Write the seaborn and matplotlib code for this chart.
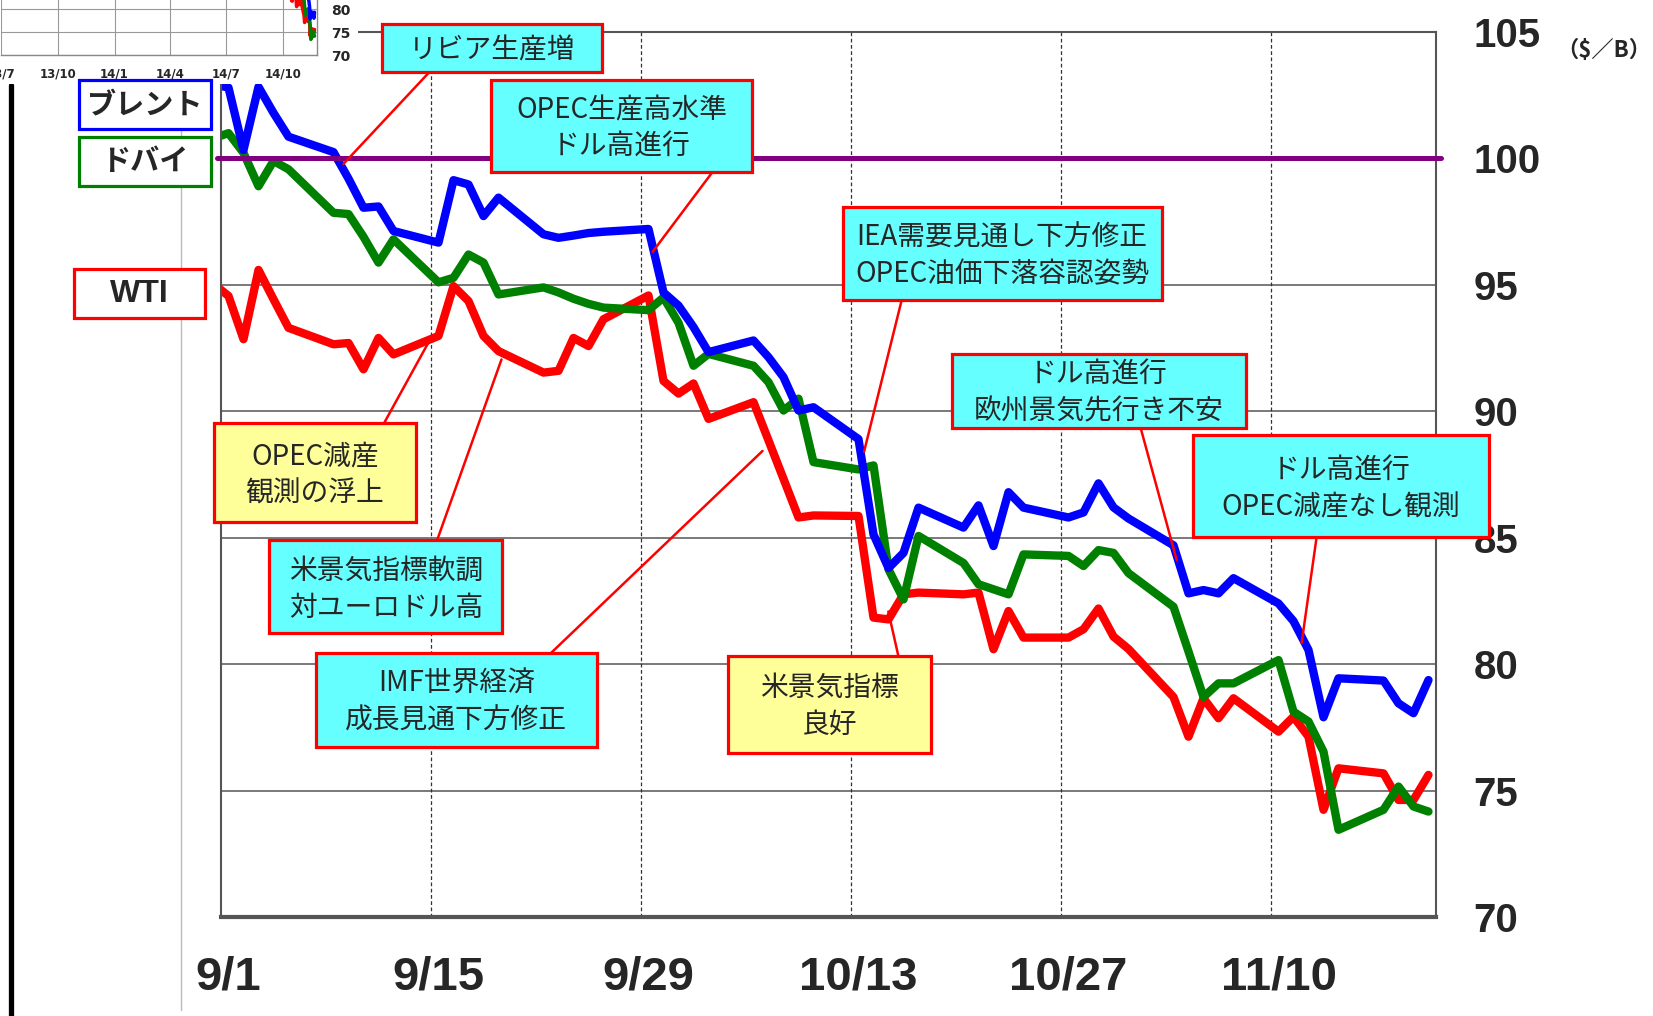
"""原油価格(WTI・ブレント・ドバイ)の推移 2014年9月〜11月と主な変動要因."""

import matplotlib
matplotlib.use("Agg")
import matplotlib.dates as mdates
import matplotlib.pyplot as plt
import pandas as pd
import seaborn as sns
from matplotlib.lines import Line2D
from matplotlib.patches import Rectangle

# ---- データ ----
DATES = [
    "2014-08-29", "2014-09-01", "2014-09-02", "2014-09-03", "2014-09-04", "2014-09-05",
    "2014-09-08", "2014-09-09", "2014-09-10", "2014-09-11", "2014-09-12",
    "2014-09-15", "2014-09-16", "2014-09-17", "2014-09-18", "2014-09-19",
    "2014-09-22", "2014-09-23", "2014-09-24", "2014-09-25", "2014-09-26",
    "2014-09-29", "2014-09-30", "2014-10-01", "2014-10-02", "2014-10-03",
    "2014-10-06", "2014-10-07", "2014-10-08", "2014-10-09", "2014-10-10",
    "2014-10-13", "2014-10-14", "2014-10-15", "2014-10-16", "2014-10-17",
    "2014-10-20", "2014-10-21", "2014-10-22", "2014-10-23", "2014-10-24",
    "2014-10-27", "2014-10-28", "2014-10-29", "2014-10-30", "2014-10-31",
    "2014-11-03", "2014-11-04", "2014-11-05", "2014-11-06", "2014-11-07",
    "2014-11-10", "2014-11-11", "2014-11-12", "2014-11-13", "2014-11-14",
    "2014-11-17", "2014-11-18", "2014-11-19", "2014-11-20",
]
BRENT = [
    103.2, 102.8, 100.33, 102.83, 101.8, 100.86,
    100.25, 99.2, 98.05, 98.1, 97.13,
    96.67, 99.14, 98.97, 97.72, 98.45,
    97.0, 96.86, 96.95, 97.05, 97.1,
    97.21, 94.7, 94.18, 93.33, 92.34,
    92.8, 92.14, 91.35, 90.03, 90.16,
    88.9, 85.13, 83.8, 84.4, 86.19,
    85.4, 86.28, 84.67, 86.8, 86.19,
    85.8, 86.0, 87.15, 86.2, 85.76,
    84.7, 82.8, 82.93, 82.8, 83.4,
    82.4, 81.7, 80.56, 77.9, 79.44,
    79.35, 78.45, 78.06, 79.37,
]
DUBAI = [
    100.4, 101.0, 100.22, 98.9, 99.9, 99.57,
    97.85, 97.8, 96.9, 95.88, 96.8,
    95.1, 95.28, 96.2, 95.88, 94.62,
    94.9, 94.7, 94.45, 94.25, 94.1,
    94.0, 94.5, 93.5, 91.8, 92.27,
    91.8, 91.15, 90.03, 90.5, 87.99,
    87.7, 87.86, 83.75, 82.56, 85.07,
    84.0, 83.16, 82.96, 82.76, 84.34,
    84.28, 83.88, 84.51, 84.4, 83.6,
    82.27, 80.5, 78.7, 79.24, 79.24,
    80.16, 78.12, 77.73, 76.54, 73.45,
    74.24, 75.16, 74.37, 74.17,
]
WTI = [
    96.0, 94.56, 92.85, 95.59, 94.43, 93.3,
    92.65, 92.7, 91.66, 92.9, 92.25,
    92.98, 94.95, 94.36, 92.98, 92.38,
    91.53, 91.6, 92.9, 92.58, 93.64,
    94.58, 91.2, 90.7, 91.1, 89.7,
    90.36, 88.85, 87.33, 85.8, 85.88,
    85.86, 81.84, 81.77, 82.76, 82.83,
    82.76, 82.83, 80.59, 82.1, 81.05,
    81.05, 81.38, 82.2, 81.09, 80.6,
    78.7, 77.13, 78.65, 77.86, 78.65,
    77.33, 77.92, 77.13, 74.24, 75.88,
    75.68, 74.63, 74.63, 75.62,
]

SERIES = ["WTI", "ドバイ", "ブレント"]  # 描画順 (ブレントが最前面)
COLORS = {"WTI": "#ff0000", "ドバイ": "#008000", "ブレント": "#0000ff"}
LEGEND_ORDER = ["ブレント", "ドバイ", "WTI"]

X_TICK_DATES = ["2014-09-01", "2014-09-15", "2014-09-29",
                "2014-10-13", "2014-10-27", "2014-11-10"]
X_TICK_LABELS = ["9/1", "9/15", "9/29", "10/13", "10/27", "11/10"]
Y_TICKS = [70, 75, 80, 85, 90, 95, 100, 105]
LINE_100 = 100

INSET_TICK_DATES = ["2013-07-01", "2013-10-01", "2014-01-01",
                    "2014-04-01", "2014-07-01", "2014-10-01"]
INSET_TICK_LABELS = ["13/7", "13/10", "14/1", "14/4", "14/7", "14/10"]
INSET_Y_TICKS = [70, 75, 80]

CYAN = "#66ffff"
YELLOW = "#ffff99"
# 吹き出し: テキスト, 色, (x0, x1, y0, y1), 引出線 始点, 終点  (x は 9/1 からの日数)
CALLOUTS = [
    ("リビア生産増", CYAN, (10.7, 25.4, 103.42, 105.33), (13.9, 103.42), (8.16, 99.78)),
    ("OPEC生産高水準\nドル高進行", CYAN, (18.02, 35.37, 99.45, 103.1), (32.75, 99.45), (28.78, 96.31)),
    ("IEA需要見通し下方修正\nOPEC油価下落容認姿勢", CYAN, (41.45, 62.7, 94.4, 98.08),
     (45.38, 94.4), (42.87, 88.4)),
    ("ドル高進行\n欧州景気先行き不安", CYAN, (48.7, 68.3, 89.34, 92.27), (61.31, 89.34), (63.71, 84.12)),
    ("ドル高進行\nOPEC減産なし観測", CYAN, (64.78, 84.5, 85.02, 89.05), (73.04, 85.02), (72.04, 80.83)),
    ("OPEC減産\n観測の浮上", YELLOW, (-0.47, 13.0, 85.64, 89.53), (10.87, 89.53), (13.95, 92.85)),
    ("米景気指標軟調\n対ユーロドル高", CYAN, (3.22, 18.75, 81.25, 84.89), (14.4, 84.89), (18.7, 92.05)),
    ("IMF世界経済\n成長見通下方修正", CYAN, (6.33, 25.05, 76.74, 80.43), (21.98, 80.43), (36.1, 88.43)),
    ("米景気指標\n良好", YELLOW, (33.83, 47.33, 76.5, 80.34), (45.15, 80.34), (44.49, 82.08)),
]

W, H = 1653, 1016
JP = ["Noto Sans CJK JP", "DejaVu Sans"]
NUM = ["Liberation Sans", "DejaVu Sans"]


def fx(x):
    return x / W


def fy(y):
    return 1 - y / H


sns.set_style("white")
plt.rcParams["font.family"] = JP

t0 = pd.Timestamp("2014-09-01")
dates = pd.to_datetime(DATES)
df = pd.DataFrame({"date": dates, "ブレント": BRENT, "ドバイ": DUBAI, "WTI": WTI})
df["day"] = (df["date"] - t0).dt.days + 0.5
long = df.melt(id_vars=["date", "day"], value_vars=SERIES,
               var_name="series", value_name="price")
long["dnum"] = mdates.date2num(long["date"]) + 0.5

fig = plt.figure(figsize=(W / 100, H / 100), dpi=100)
fig.patch.set_facecolor("white")

# ---- メインチャート ----
ax = fig.add_axes([fx(221), fy(917), fx(1436 - 221), (917 - 32) / H])
ax.set_xlim(0, 81)
ax.set_ylim(70, 105)
ax.set_yticks(Y_TICKS)
ax.yaxis.grid(True, color="#555555", lw=1.1)
for d in X_TICK_DATES[1:]:
    ax.axvline((pd.Timestamp(d) - t0).days, color="#333333", lw=0.9,
               ls=(0, (3, 2)), zorder=1.5)

sns.lineplot(data=long, x="day", y="price", hue="series", hue_order=SERIES,
             palette=COLORS, linewidth=6, estimator=None, sort=False,
             legend=False, ax=ax)
ax.axhline(LINE_100, xmin=-0.003, xmax=1.004, color="#800080", lw=3.6,
           clip_on=False, zorder=3)

ax.set_xlabel("")
ax.set_ylabel("")
ax.set_xticks([(pd.Timestamp(d) - t0).days + 0.5 for d in X_TICK_DATES],
              X_TICK_LABELS)
ax.yaxis.tick_right()
ax.tick_params(axis="x", length=0, pad=28)
ax.tick_params(axis="y", length=0, pad=27)
for lbl in ax.get_xticklabels():
    lbl.set_fontfamily(NUM)
    lbl.set_fontweight("bold")
    lbl.set_fontsize(34)
for lbl in ax.get_yticklabels():
    lbl.set_fontfamily(NUM)
    lbl.set_fontweight("bold")
    lbl.set_fontsize(29)
for name, s in ax.spines.items():
    s.set_visible(True)
    s.set_color("#555555")
    s.set_linewidth(3 if name == "bottom" else 1.5)

# 吹き出し
for text, face, (x0, x1, y0, y1), start, end in CALLOUTS:
    ax.add_patch(Rectangle((x0, y0), x1 - x0, y1 - y0, facecolor=face,
                           edgecolor="#ff0000", lw=2.3, clip_on=False, zorder=10))
    ax.text((x0 + x1) / 2, (y0 + y1) / 2 - 0.1, text, ha="center", va="center",
            multialignment="center", fontsize=20, linespacing=1.3,
            zorder=11, clip_on=False)
    ax.annotate("", xy=end, xytext=start, annotation_clip=False, zorder=9,
                arrowprops=dict(arrowstyle="-", color="#ff0000", lw=1.8,
                                shrinkA=0, shrinkB=0))

fig.text(fx(1556), fy(51), "（$／B）", fontsize=16, fontweight="bold",
         ha="left", va="center")

# ---- 左上の長期チャート (一部のみ表示) ----
fig.add_artist(Rectangle((0, fy(84)), fx(358), 84 / H, transform=fig.transFigure,
                         facecolor="white", edgecolor="none", zorder=5))
ins = fig.add_axes([fx(0.8), fy(55.3), fx(317.3 - 0.8), 92 / H])
ins.set_zorder(6)
ins.set_xlim(mdates.date2num(pd.Timestamp("2013-07-01")),
             mdates.date2num(pd.Timestamp("2014-11-25")))
ins.set_ylim(70, 90)
sns.lineplot(data=long, x="dnum", y="price", hue="series", hue_order=SERIES,
             palette=COLORS, linewidth=2.5, estimator=None, sort=False,
             legend=False, ax=ins)
ins.set_xlabel("")
ins.set_ylabel("")
ins.set_xticks(mdates.date2num(pd.to_datetime(INSET_TICK_DATES)), INSET_TICK_LABELS)
ins.set_yticks(INSET_Y_TICKS)
ins.yaxis.tick_right()
ins.grid(True, color="#999999", lw=0.8)
ins.set_axisbelow(True)
ins.tick_params(axis="x", length=0, pad=9, labelsize=8.5)
ins.tick_params(axis="y", length=0, pad=10, labelsize=10)
for lbl in ins.get_xticklabels() + ins.get_yticklabels():
    lbl.set_fontfamily(["DejaVu Sans"])
    lbl.set_fontweight("bold")
for name, s in ins.spines.items():
    s.set_visible(name in ("bottom", "right"))
    s.set_color("#888888")
    s.set_linewidth(1)

# ---- 凡例ボックス ----
LEGEND_BOXES = {"ブレント": (79, 211, 80, 129), "ドバイ": (79, 211, 137, 186),
                "WTI": (74, 205, 269, 318)}
for name in LEGEND_ORDER:
    x0, x1, y0, y1 = LEGEND_BOXES[name]
    fig.add_artist(Rectangle((fx(x0), fy(y1)), fx(x1 - x0), (y1 - y0) / H,
                             transform=fig.transFigure, facecolor="white",
                             edgecolor=COLORS[name], lw=2.3, zorder=7))
    fam = NUM if name == "WTI" else JP
    size = 23 if name == "WTI" else 21
    fig.text(fx((x0 + x1) / 2), fy((y0 + y1) / 2), name, ha="center", va="center",
             fontsize=size, fontweight="bold", family=fam, zorder=8)

# 左端の縦線
fig.add_artist(Line2D([fx(10.5), fx(10.5)], [fy(85), 0], color="black", lw=3.8,
                      transform=fig.transFigure))
fig.add_artist(Line2D([fx(181), fx(181)], [fy(80), fy(1010)], color="#bbbbbb",
                      lw=1, transform=fig.transFigure))

fig.savefig("out.png", dpi=100)
plt.close(fig)
